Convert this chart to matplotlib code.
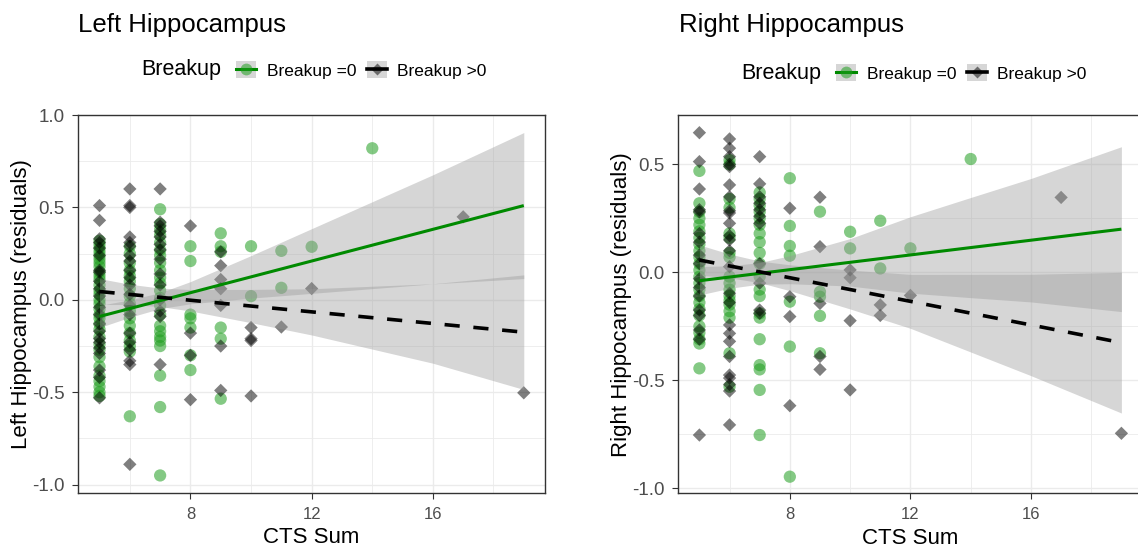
import numpy as np
import matplotlib
matplotlib.use("Agg")
import matplotlib.pyplot as plt
from matplotlib.lines import Line2D
from matplotlib.patches import Patch
from matplotlib.legend_handler import HandlerTuple
from matplotlib.ticker import MultipleLocator, FixedLocator

plt.rcParams['font.family'] = ['Liberation Sans', 'DejaVu Sans']
plt.rcParams['axes.unicode_minus'] = False

# ---------------- data ----------------
cts_values = [5, 6, 7, 8, 9, 10, 11, 12, 14, 17, 19]

# Left hippocampus residuals, Breakup = 0 (keyed by CTS Sum)
left_g0 = {
    5: [0.32, 0.30, 0.28, 0.26, 0.24, 0.22, 0.20, 0.18, 0.15, 0.13, 0.11, 0.08, 0.05, 0.03, 0.00,
        -0.02, -0.05, -0.08, -0.10, -0.13, -0.16, -0.20, -0.24, -0.27, -0.31, -0.36, -0.41, -0.44,
        -0.47, -0.50, -0.52],
    6: [0.29, 0.25, 0.20, 0.16, 0.13, 0.10, 0.06, 0.02, -0.02, -0.06, -0.10, -0.14, -0.18, -0.22,
        -0.25, -0.28, -0.63],
    7: [0.49, 0.41, 0.38, 0.35, 0.31, 0.27, 0.24, 0.20, 0.16, 0.12, 0.09, 0.05, 0.01, -0.03, -0.08,
        -0.14, -0.17, -0.20, -0.22, -0.25, -0.41, -0.58, -0.95],
    8: [0.29, 0.21, -0.08, -0.10, -0.15, -0.30, -0.38],
    9: [0.36, 0.29, 0.26, -0.15, -0.21, -0.535],
    10: [0.29, 0.02],
    11: [0.265, 0.065],
    12: [0.287],
    14: [0.82],
}
# Left hippocampus residuals, Breakup > 0
left_g1 = {
    5: [0.51, 0.43, 0.33, 0.31, 0.28, 0.24, 0.16, 0.15, 0.10, 0.06, 0.02, -0.04, -0.08, -0.13, -0.17,
        -0.21, -0.23, -0.26, -0.29, -0.38, -0.42, -0.53],
    6: [0.60, 0.51, 0.50, 0.34, 0.31, 0.29, 0.24, 0.21, 0.16, 0.12, 0.08, 0.03, -0.03, -0.08, -0.18,
        -0.23, -0.27, -0.33, -0.35, -0.89],
    7: [0.60, 0.42, 0.40, 0.37, 0.34, 0.30, 0.27, 0.22, 0.14, 0.08, 0.00, -0.06, -0.09, -0.35],
    8: [0.40, -0.18, -0.30, -0.54],
    9: [0.26, 0.185, 0.11, 0.06, -0.03, -0.25, -0.49],
    10: [-0.15, -0.21, -0.22, -0.52],
    11: [-0.147],
    12: [0.061],
    17: [0.449],
    19: [-0.503],
}
# Right hippocampus residuals, Breakup = 0
right_g0 = {
    5: [0.47, 0.32, 0.28, 0.25, 0.22, 0.19, 0.16, 0.13, 0.10, 0.07, 0.04, 0.01, -0.02, -0.05, -0.08,
        -0.11, -0.14, -0.17, -0.20, -0.25, -0.28, -0.31, -0.33, -0.445],
    6: [0.52, 0.50, 0.34, 0.30, 0.18, 0.16, 0.09, 0.07, -0.02, -0.05, -0.08, -0.11, -0.13, -0.15,
        -0.18, -0.21, -0.375, -0.53],
    7: [0.37, 0.34, 0.31, 0.28, 0.25, 0.22, 0.18, 0.14, 0.09, 0.04, -0.02, -0.08, -0.11, -0.19,
        -0.21, -0.31, -0.43, -0.45, -0.545, -0.754],
    8: [0.436, 0.215, 0.122, 0.077, -0.136, -0.344, -0.947],
    9: [0.281, -0.09, -0.113, -0.202, -0.375],
    10: [0.188, 0.111],
    11: [0.239, 0.018],
    12: [0.111],
    14: [0.525],
}
# Right hippocampus residuals, Breakup > 0
right_g1 = {
    5: [0.647, 0.513, 0.386, 0.29, 0.28, 0.18, 0.14, 0.08, 0.04, -0.03, -0.07, -0.11, -0.175, -0.20,
        -0.267, -0.31, -0.754],
    6: [0.618, 0.575, 0.536, 0.50, 0.49, 0.405, 0.35, 0.285, 0.275, 0.227, 0.17, 0.15, 0.10, 0.026,
        -0.097, -0.14, -0.244, -0.283, -0.32, -0.39, -0.476, -0.49, -0.52, -0.55, -0.707],
    7: [0.536, 0.41, 0.35, 0.32, 0.29, 0.26, 0.227, 0.04, -0.05, -0.175, -0.19],
    8: [0.297, -0.113, -0.205, -0.618],
    9: [0.348, 0.119, -0.144, -0.39, -0.45],
    10: [0.011, -0.025, -0.224, -0.545],
    11: [-0.151, -0.2],
    12: [-0.107],
    17: [0.347],
    19: [-0.746],
}

# fitted lm lines (value at CTS = 5 and CTS = 19) and 95% CI half-widths
fit_x = [5, 19]
left_fit_g0 = [-0.09, 0.51]
left_fit_g1 = [0.045, -0.175]
right_fit_g0 = [-0.039, 0.20]
right_fit_g1 = [0.057, -0.326]
ci_x = [5, 6, 7, 8, 10, 12, 14, 16, 19]
left_ci_g0 = [0.06, 0.047, 0.043, 0.06, 0.115, 0.175, 0.235, 0.295, 0.395]
left_ci_g1 = [0.07, 0.055, 0.05, 0.058, 0.09, 0.125, 0.17, 0.215, 0.31]
right_ci_g0 = [0.066, 0.052, 0.05, 0.065, 0.11, 0.177, 0.232, 0.286, 0.382]
right_ci_g1 = [0.07, 0.055, 0.05, 0.06, 0.09, 0.125, 0.18, 0.235, 0.326]

titles = ["Left Hippocampus", "Right Hippocampus"]
ylabels = ["Left Hippocampus (residuals)", "Right Hippocampus (residuals)"]
xlabel = "CTS Sum"
legend_title = "Breakup"
legend_labels = ["Breakup =0", "Breakup >0"]
x_ticks = [8, 12, 16]
left_yticks = [-1.0, -0.5, 0.0, 0.5, 1.0]
right_yticks = [-1.0, -0.5, 0.0, 0.5]

# ---------------- styles ----------------
GREEN_PT = '#1f9e1f'
GREEN_LN = '#008a00'
RIBBON = '#999999'
DASH = (0, (4.2, 3.8))
W, H = 1138, 548


def flatten(d):
    xs, ys = [], []
    for k, vals in d.items():
        xs += [k] * len(vals)
        ys += vals
    return np.array(xs, float), np.array(ys, float)


fig = plt.figure(figsize=(W / 100, H / 100), dpi=100)

panels = [
    dict(g0=left_g0, g1=left_g1, f0=left_fit_g0, f1=left_fit_g1, c0=left_ci_g0, c1=left_ci_g1,
         rect=[78.3, 115, 545, 493], ylim=(-1.045, 1.0), yticks=left_yticks, title_x=78, leg_y=70),
    dict(g0=right_g0, g1=right_g1, f0=right_fit_g0, f1=right_fit_g1, c0=right_ci_g0, c1=right_ci_g1,
         rect=[678.3, 115, 1142.5, 493.3], ylim=(-1.024, 0.729), yticks=right_yticks, title_x=679,
         leg_y=73),
]

for i, p in enumerate(panels):
    l, t, r, b = p['rect']
    ax = fig.add_axes([l / W, 1 - b / H, (r - l) / W, (b - t) / H])
    ax.set_xlim(4.3, 19.7)
    ax.set_ylim(*p['ylim'])

    x0, y0 = flatten(p['g0'])
    x1, y1 = flatten(p['g1'])
    ax.scatter(x0, y0, s=78, marker='o', color=GREEN_PT, alpha=0.55, edgecolors='none', zorder=3)
    ax.scatter(x1, y1, s=46, marker='D', color='black', alpha=0.5, edgecolors='none', zorder=3)

    cx = np.array(ci_x, float)
    for fit, ci, col, ls in [(p['f0'], p['c0'], GREEN_LN, '-'), (p['f1'], p['c1'], 'black', DASH)]:
        fit_at = np.interp(cx, fit_x, fit)
        ax.fill_between(cx, fit_at - np.array(ci), fit_at + np.array(ci), color=RIBBON, alpha=0.4,
                        linewidth=0, zorder=4)
        ax.plot(fit_x, fit, color=col, lw=2.2 if ls == '-' else 2.6, linestyle=ls, zorder=5,
                solid_capstyle='butt', dash_capstyle='butt')

    ax.xaxis.set_major_locator(FixedLocator(x_ticks))
    ax.xaxis.set_minor_locator(MultipleLocator(2))
    ax.yaxis.set_major_locator(FixedLocator(p['yticks']))
    ax.yaxis.set_minor_locator(MultipleLocator(0.25))
    ax.set_yticklabels([f"{v:.1f}" for v in p['yticks']])
    ax.grid(which='major', color='#ebebeb', lw=1.0, zorder=0)
    ax.grid(which='minor', color='#ebebeb', lw=0.6, zorder=0)
    ax.set_axisbelow(True)
    ax.tick_params(which='minor', length=0)
    ax.tick_params(which='major', length=4, width=0.8, color='#333333', labelcolor='#4d4d4d')
    ax.tick_params(axis='x', labelsize=12, pad=6)
    ax.tick_params(axis='y', labelsize=13.5, pad=6)
    for s in ax.spines.values():
        s.set_color('#333333')
        s.set_linewidth(1.0)
    ax.set_xlabel(xlabel, fontsize=16, labelpad=4, color='black')
    ax.set_ylabel(ylabels[i], fontsize=16, labelpad=0, color='black')

    fig.text(p['title_x'] / W, 1 - 25 / H, titles[i], fontsize=18.5, ha='left', va='center')

    # legend
    ly = p['leg_y']
    fig.text((l + 63) / W, 1 - ly / H, legend_title, fontsize=15.5, ha='left', va='center')
    key_bg = Patch(facecolor=RIBBON, alpha=0.4, edgecolor='none')
    k0 = (key_bg, Line2D([], [], color=GREEN_LN, lw=2.2),
          Line2D([], [], color='none', marker='o', ms=8.5, mfc=GREEN_PT, mec='none', alpha=0.55))
    k1 = (key_bg, Line2D([], [], color='black', lw=2.6),
          Line2D([], [], color='none', marker='D', ms=6.5, mfc='black', mec='none', alpha=0.5))
    ax.legend([k0, k1], legend_labels, handler_map={tuple: HandlerTuple(ndivide=1, pad=0)},
              loc='center left', bbox_to_anchor=((l + 158) / W, 1 - ly / H),
              bbox_transform=fig.transFigure, ncol=2, frameon=False, fontsize=12.5,
              borderpad=0, borderaxespad=0, handlelength=1.15, handleheight=1.15,
              handletextpad=0.6, columnspacing=0.6, numpoints=1)

fig.savefig('out.png', dpi=100)
